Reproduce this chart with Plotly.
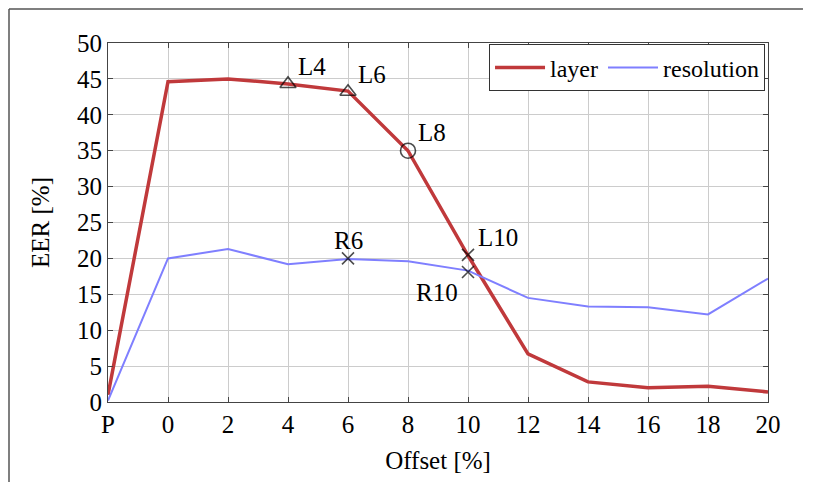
import plotly.graph_objects as go

categories = ["P", "0", "2", "4", "6", "8", "10", "12", "14", "16", "18", "20"]
layer = [1.0, 44.6, 45.0, 44.3, 43.3, 35.0, 20.4, 6.7, 2.8, 2.0, 2.2, 1.4]
resolution = [0.2, 20.0, 21.3, 19.2, 19.9, 19.6, 18.3, 14.5, 13.3, 13.2, 12.2, 17.2]
y_ticks = [0, 5, 10, 15, 20, 25, 30, 35, 40, 45, 50]

mark_x = ["4", "6", "8", "10", "6", "10"]
mark_y = [44.3, 43.2, 35.0, 20.5, 20.0, 18.1]
mark_labels = ["L4", "L6", "L8", "L10", "R6", "R10"]
mark_symbols = ["triangle-up-open", "triangle-up-open", "circle-open", "x-thin-open", "x-thin-open", "x-thin-open"]
mark_sizes = [14, 14, 15, 12, 12, 12]
label_shift = [(24, 17), (24, 17), (24, 18), (30, 17), (0, 18), (-31, -20)]

FONT = "Liberation Serif, Times New Roman, DejaVu Serif, serif"
RED = "#c0393b"
BLUE = "#7f7fff"

fig = go.Figure()
fig.add_trace(go.Scatter(x=categories, y=layer, mode="lines", name="layer",
                         line=dict(color=RED, width=3.5)))
fig.add_trace(go.Scatter(x=categories, y=resolution, mode="lines", name="resolution",
                         line=dict(color=BLUE, width=2)))
fig.add_trace(go.Scatter(x=mark_x, y=mark_y, mode="markers", showlegend=False,
                         marker=dict(symbol=mark_symbols, size=mark_sizes, color="black",
                                     line=dict(color="black", width=1.6))))

for xv, yv, lab, (dx, dy) in zip(mark_x, mark_y, mark_labels, label_shift):
    fig.add_annotation(x=categories.index(xv), y=yv, text=lab, showarrow=False,
                       xshift=dx, yshift=dy,
                       font=dict(family=FONT, size=25, color="black"))

# outer frame (top and left edges)
fig.add_shape(type="line", xref="paper", yref="paper", x0=-0.15, x1=1.053, y0=1.0947, y1=1.0947,
              line=dict(color="#555555", width=1.5))
fig.add_shape(type="line", xref="paper", yref="paper", x0=-0.15, x1=-0.15, y0=1.0947, y1=-0.25,
              line=dict(color="#555555", width=1.5))

fig.update_layout(
    width=806, height=474,
    margin=dict(l=100, r=46, t=35, b=80),
    paper_bgcolor="white", plot_bgcolor="white",
    font=dict(family=FONT, size=25, color="black"),
    showlegend=True,
    legend=dict(x=0.9955, y=0.996, xanchor="right", yanchor="top", orientation="h",
                bordercolor="#333333", borderwidth=1, bgcolor="white",
                font=dict(family=FONT, size=24), itemwidth=50, tracegroupgap=0),
)
fig.update_xaxes(type="category", categoryorder="array", categoryarray=categories,
                 range=[0, 11], showgrid=True, gridcolor="#cccccc", gridwidth=1,
                 showline=True, linecolor="#444444", linewidth=1.2, mirror="ticks",
                 ticks="inside", ticklen=5, tickcolor="#444444", automargin=False,
                 title=dict(text="Offset [%]", standoff=14, font=dict(family=FONT, size=25)),
                 tickfont=dict(family=FONT, size=25), zeroline=False)
fig.update_yaxes(range=[0, 50], tickvals=y_ticks, showgrid=True, gridcolor="#cccccc", gridwidth=1,
                 showline=True, linecolor="#444444", linewidth=1.2, mirror="ticks",
                 ticks="inside", ticklen=5, tickcolor="#444444", automargin=False,
                 title=dict(text="EER [%]", standoff=20, font=dict(family=FONT, size=25)),
                 tickfont=dict(family=FONT, size=25), zeroline=False)

fig.write_html("out.html")
